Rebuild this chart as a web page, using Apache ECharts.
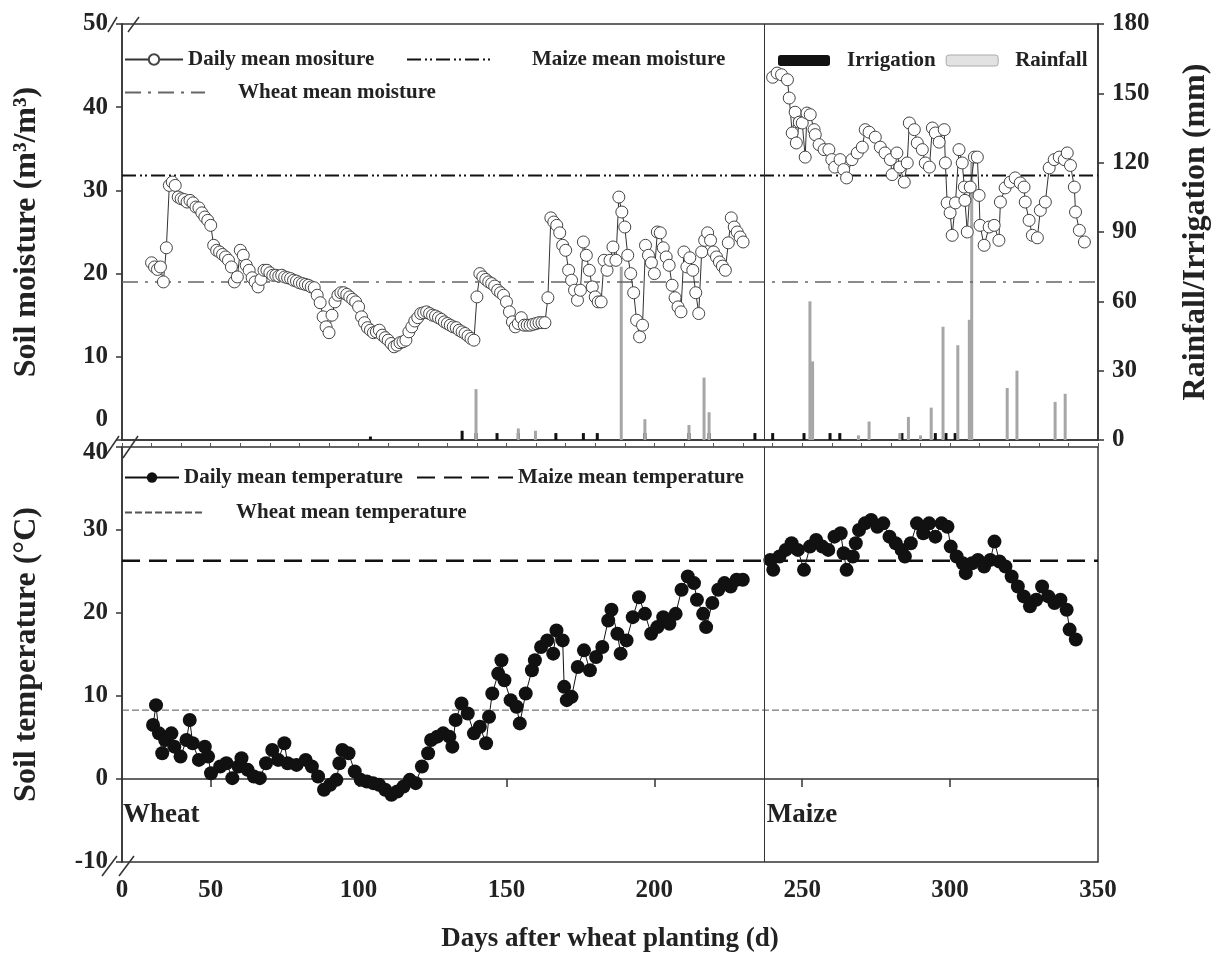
<!DOCTYPE html>
<html>
<head>
<meta charset="utf-8">
<script src="https://cdn.jsdelivr.net/npm/echarts@6.0.0/dist/echarts.min.js"></script>
<style>
  html, body { margin: 0; padding: 0; background: #fff; }
  #chart { width: 1225px; height: 960px; }
</style>
</head>
<body>
<div id="chart"></div>
<script>
// ---- data ----
const wheatMoistStart = 30
const wheatMoisture = [
  21.3, 20.8, 20.5, 20.8, 19.0, 23.1, 30.6, 31.0, 30.6, 29.2,
  29.0, 28.9, 28.6, 28.8, 28.5, 28.0, 27.9, 27.3, 26.8, 26.4,
  25.8, 23.4, 22.8, 22.6, 22.3, 22.0, 21.6, 20.8, 19.0, 19.6,
  22.8, 22.2, 21.0, 20.4, 19.5, 19.0, 18.4, 19.3, 20.4, 20.4,
  20.1, 19.8, 19.8, 19.7, 19.8, 19.6, 19.5, 19.4, 19.2, 19.1,
  18.9, 18.8, 18.7, 18.6, 18.4, 18.3, 17.4, 16.5, 14.8, 13.6,
  12.9, 15.0, 16.6, 17.4, 17.7, 17.7, 17.5, 17.2, 16.9, 16.6,
  16.0, 14.8, 14.1, 13.5, 13.2, 12.9, 13.0, 13.2, 12.6, 12.3,
  12.0, 11.6, 11.2, 11.4, 11.7, 11.8, 12.0, 13.0, 13.6, 14.3,
  14.7, 15.2, 15.3, 15.4, 15.2, 15.0, 14.9, 14.7, 14.5, 14.2,
  14.0, 13.8, 13.6, 13.5, 13.2, 13.0, 12.8, 12.5, 12.2, 12.0,
  17.2, 20.0, 19.6, 19.3, 19.0, 18.8, 18.5, 18.0, 17.7, 17.4,
  16.6, 15.4, 14.2, 13.6, 14.0, 14.7, 13.8, 13.8, 13.8, 13.9,
  14.0, 14.1, 14.1, 14.1, 17.1, 26.7, 26.2, 25.8, 24.9, 23.4,
  22.8, 20.4, 19.2, 18.0, 16.8, 18.0, 23.8, 22.2, 20.4, 18.4,
  17.2, 16.6, 16.6, 21.6, 20.4, 21.6, 23.2, 21.6, 29.2, 27.4,
  25.6, 22.2, 20.0, 17.7, 14.4, 12.4, 13.8, 23.4, 22.2, 21.3,
  20.0, 25.0, 24.9, 23.1, 22.0, 21.0, 18.6, 17.1, 16.0, 15.4,
  22.6, 20.8, 21.9, 20.4, 17.7, 15.2, 22.6, 24.0, 24.9, 24.0,
  22.6, 22.0, 21.4, 20.9, 20.4, 23.7, 26.7, 25.6, 25.0, 24.4,
  23.8
]

const maizeMoisture = [
  [240, 43.6], [241.5, 44.1], [243, 43.9], [245, 43.3], [245.6, 41.1], [246.6, 36.9],
  [247.6, 39.4], [248, 35.7], [249, 38.2], [250, 38.1], [251, 34.0], [251.6, 39.3],
  [252.7, 39.1], [254, 37.3], [254.4, 36.7], [255.7, 35.5], [257.4, 34.9], [259, 34.9],
  [260, 33.7], [261, 32.8], [262.8, 33.7], [264, 32.5], [265, 31.5], [266.8, 33.7],
  [268.6, 34.5], [270.3, 35.2], [271.3, 37.3], [272.6, 37.0], [274.7, 36.4], [276.4, 35.2],
  [278, 34.5], [279.8, 33.7], [280.4, 31.9], [282, 34.5], [283, 32.8], [284.5, 31.0],
  [285.5, 33.3], [286.2, 38.1], [287.9, 37.3], [288.9, 35.7], [290.6, 34.9], [291.6, 33.3],
  [293, 32.8], [294, 37.5], [295, 36.9], [296.3, 35.8], [298, 37.3], [298.4, 33.3],
  [299, 28.5], [300, 27.3], [300.7, 24.6], [301.8, 28.5], [303, 34.9], [304.1, 33.3],
  [304.8, 30.4], [305, 28.8], [305.8, 25.0], [306.8, 30.4], [308.2, 34.0], [309.2, 34.0],
  [309.8, 29.4], [310.1, 25.8], [311.5, 23.4], [313.2, 25.6], [314.9, 25.8], [316.5, 24.0],
  [317, 28.6], [318.6, 30.3], [320.3, 31.0], [322, 31.5], [323.7, 30.9], [325, 30.4],
  [325.4, 28.6], [326.7, 26.4], [327.8, 24.6], [329.5, 24.3], [330.5, 27.6], [332.2, 28.6],
  [333.5, 32.7], [335.2, 33.7], [336.9, 34.0], [338.6, 33.7], [339.6, 34.5], [340.7, 33.0],
  [342, 30.4], [342.4, 27.4], [343.7, 25.2], [345.4, 23.8]
]

const wheatTemp = [
  [30.5, 6.5], [31.5, 8.9], [32.5, 5.5], [33.6, 3.1], [34.6, 4.7], [36.7, 5.5], [37.7, 3.9],
  [39.8, 2.7], [41.8, 4.7], [42.9, 7.1], [43.9, 4.3], [46, 2.3], [48, 3.9], [49.1, 2.7],
  [50.1, 0.7], [53.2, 1.5], [55.3, 1.9], [57.3, 0.1], [59.4, 1.5], [60.4, 2.5], [62.5, 1.1],
  [64.6, 0.3], [66.6, 0.1], [68.7, 1.9], [70.8, 3.5], [72.8, 2.3], [74.9, 4.3], [76, 1.9],
  [79, 1.7], [82.1, 2.3], [84.2, 1.5], [86.3, 0.3], [88.3, -1.3], [90.4, -0.7], [92.5, -0.1],
  [93.5, 1.9], [94.5, 3.5], [96.6, 3.1], [98.7, 0.9], [100.7, -0.1], [102.8, -0.3], [104.9, -0.5],
  [106.9, -0.7], [109, -1.3], [111.1, -1.9], [113.1, -1.5], [115.2, -0.9], [117.3, -0.1],
  [119.3, -0.5], [121.4, 1.5], [123.5, 3.1], [124.5, 4.7], [126.6, 5.1], [128.6, 5.5],
  [130.7, 5.1], [131.7, 3.9], [132.8, 7.1], [134.8, 9.1], [136.9, 7.9], [139, 5.5], [141, 6.3],
  [143.1, 4.3], [144.1, 7.5], [145.2, 10.3], [147.2, 12.7], [148.3, 14.3], [149.3, 11.9],
  [151.4, 9.5], [153.4, 8.7], [154.5, 6.7], [156.5, 10.3], [158.6, 13.1], [159.6, 14.3],
  [161.7, 15.9], [163.8, 16.7], [165.8, 15.1], [166.9, 17.9], [169, 16.7], [169.5, 11.1],
  [170.4, 9.5], [172, 9.9], [174.1, 13.5], [176.2, 15.5], [178.2, 13.1], [180.3, 14.7],
  [182.4, 15.9], [184.4, 19.1], [185.5, 20.4], [187.5, 17.5], [188.6, 15.1], [190.6, 16.7],
  [192.7, 19.5], [194.8, 21.9], [196.8, 19.9], [198.9, 17.5], [201, 18.3], [203, 19.5],
  [205.1, 18.7], [207.2, 19.9], [209.2, 22.8], [211.3, 24.4], [213.4, 23.6], [214.4, 21.6],
  [216.5, 19.9], [217.5, 18.3], [219.6, 21.2], [221.6, 22.8], [223.7, 23.6], [225.8, 23.2],
  [227.8, 24.0], [229.9, 24.0]
]

const maizeTemp = [
  [239.2, 26.4], [240.2, 25.2], [242.3, 26.8], [244.4, 27.6], [246.4, 28.4], [248.5, 27.6],
  [250.6, 25.2], [252.6, 28.0], [254.7, 28.8], [256.8, 28.0], [258.8, 27.6], [260.9, 29.2],
  [263, 29.6], [264, 27.2], [265, 25.2], [267.1, 26.8], [268.1, 28.4], [269.2, 30.0],
  [271.2, 30.8], [273.3, 31.2], [275.4, 30.4], [277.4, 30.8], [279.5, 29.2], [281.6, 28.4],
  [283.6, 27.6], [284.7, 26.8], [286.7, 28.4], [288.8, 30.8], [290.9, 29.6], [292.9, 30.8],
  [295, 29.2], [297.1, 30.8], [299.1, 30.4], [300.2, 28.0], [302.2, 26.8], [304.3, 26.0],
  [305.3, 24.8], [307.4, 26.0], [309.4, 26.4], [311.5, 25.6], [313.6, 26.4], [315, 28.6],
  [316.7, 26.2], [318.7, 25.6], [320.8, 24.4], [322.9, 23.2], [324.9, 22.0], [327, 20.8],
  [329.1, 21.6], [331.1, 23.2], [333.2, 22.0], [335.3, 21.2], [337.3, 21.6], [339.4, 20.4],
  [340.4, 18.0], [342.5, 16.8]
]

const irrigationDays = [104, 135, 139.7, 146.8, 154, 166.7, 176, 180.7, 196.8, 211.7, 218.5,
  234, 240, 250.6, 259.4, 262.7, 283.7, 295, 298.6, 301.7]
const irrigationMm = [1.5, 4, 3, 3, 3, 3, 3, 3, 3, 3, 3, 3, 3, 3, 3, 3, 3, 3, 3, 3]

const rainDays = [139.7, 154, 159.8, 188.8, 196.8, 211.7, 216.8, 218.5, 252.6, 253.5, 269,
  272.6, 283, 285.9, 290, 293.6, 297.6, 302.6, 306.5, 307.3, 319.3, 322.6, 335.5, 338.9]
const rainMm = [22, 5, 4, 75, 9, 6.5, 27, 12, 60, 34, 2, 8, 3, 10, 2, 14, 49, 41, 52, 120,
  22.5, 30, 16.5, 20]

const wheatMeanMoisture = 19.0
const maizeMeanMoisture = 31.8
const wheatMeanTemp = 8.3
const maizeMeanTemp = 26.3
const harvestDay = 237
const dayRange = [20, 350]
const dayTicks = [50, 100, 150, 200, 250, 300, 350]
const cropNames = ['Wheat', 'Maize']
const cropLabelDays = [20.3, 238]

// ---- styling ----
const FONT = 'Liberation Serif'
const axisText = { fontFamily: FONT, fontWeight: 'bold', fontSize: 25, color: '#222' }
const titleText = { fontFamily: FONT, fontWeight: 'bold', fontSize: 32, color: '#222' }
const legText = { fontFamily: FONT, fontWeight: 'bold', fontSize: 21, color: '#222' }
const axisLine = { show: true, lineStyle: { color: '#333', width: 1.5 } }
const lineOnly = { opacity: 0 }

const wheatMoistData = wheatMoisture.map((v, i) => [wheatMoistStart + i, v])
const irrigationData = irrigationDays.map((d, i) => [d, irrigationMm[i]])
const rainData = rainDays.map((d, i) => [d, rainMm[i]])
const flat = (v) => [[dayRange[0], v], [dayRange[1], v]]

const separator = {
  silent: true,
  symbol: 'none',
  label: { show: false },
  lineStyle: { color: '#333', type: 'solid', width: 1 },
  data: [{ xAxis: harvestDay }]
}

const chart = echarts.init(document.getElementById('chart'))

const option = {
  animation: false,
  backgroundColor: '#fff',
  grid: [
    { left: 122, right: 127, top: 24, height: 416, show: true, borderColor: '#333', borderWidth: 1.5 },
    { left: 122, right: 127, top: 447, height: 415, show: true, borderColor: '#333', borderWidth: 1.5 }
  ],
  xAxis: [
    {
      gridIndex: 0, type: 'value', min: dayRange[0], max: dayRange[1],
      axisLine: axisLine, axisTick: { show: false }, axisLabel: { show: false }, splitLine: { show: false }
    },
    {
      gridIndex: 1, type: 'value', min: dayRange[0], max: dayRange[1], interval: 10,
      axisLine: axisLine,
      axisTick: { show: true, customValues: dayTicks, length: 8, lineStyle: { color: '#333', width: 1.5 } },
      axisLabel: {
        ...axisText, margin: 16,
        formatter: (v) => v === dayRange[0] ? '0' : (v % 50 === 0 ? String(v) : '')
      },
      splitLine: { show: false },
      name: 'Days after wheat planting (d)', nameLocation: 'middle', nameGap: 64,
      nameTextStyle: { ...axisText, fontSize: 27 }
    },
    {
      gridIndex: 1, type: 'value', min: dayRange[0], max: dayRange[1], interval: 10,
      axisLine: { show: false },
      axisTick: { show: true, length: 4, lineStyle: { color: '#555', width: 1 } },
      axisLabel: { show: false }, splitLine: { show: false }
    }
  ],
  yAxis: [
    {
      gridIndex: 0, type: 'value', min: 0, max: 50, interval: 10, position: 'left',
      axisLine: axisLine,
      axisTick: { show: true, length: 6, lineStyle: { color: '#333', width: 1.5 } },
      axisLabel: {
        ...axisText, margin: 14,
        formatter: (v) => v === 0 ? '{lo|0}' : String(v),
        rich: { lo: { ...axisText, padding: [0, 0, 40, 0] } }
      },
      splitLine: { show: false },
      name: 'Soil moisture (m³/m³)', nameLocation: 'middle', nameRotate: 90, nameGap: 79,
      nameTextStyle: titleText
    },
    {
      gridIndex: 0, type: 'value', min: 0, max: 180, interval: 30, position: 'right',
      axisLine: axisLine,
      axisTick: { show: true, length: 6, lineStyle: { color: '#333', width: 1.5 } },
      axisLabel: { ...axisText, margin: 14 },
      splitLine: { show: false },
      name: 'Rainfall/Irrigation (mm)', nameLocation: 'middle', nameRotate: 90, nameGap: 82,
      nameTextStyle: titleText
    },
    {
      gridIndex: 1, type: 'value', min: -10, max: 40, interval: 10, position: 'left',
      axisLine: axisLine,
      axisTick: { show: true, length: 6, lineStyle: { color: '#333', width: 1.5 } },
      axisLabel: {
        ...axisText, margin: 14,
        formatter: (v) => v === 40 ? '{hi|40}' : String(v),
        rich: { hi: { ...axisText, padding: [12, 0, 0, 0] } }
      },
      splitLine: { show: false },
      name: 'Soil temperature (°C)', nameLocation: 'middle', nameRotate: 90, nameGap: 79,
      nameTextStyle: titleText
    }
  ],
  legend: [
    { data: ['Daily mean mositure'], left: 124, top: 49, padding: 0, itemWidth: 58, itemHeight: 13, textStyle: legText },
    { data: [{ name: 'Maize mean moisture', itemStyle: lineOnly }], left: 406, top: 49, padding: 0,
      itemWidth: 86, itemHeight: 13, textStyle: { ...legText, padding: [0, 0, 0, 34] } },
    { data: [{ name: 'Wheat mean moisture', itemStyle: lineOnly }], left: 124, top: 82, padding: 0,
      itemWidth: 80, itemHeight: 13, textStyle: { ...legText, padding: [0, 0, 0, 28] } },
    { data: [
        { name: 'Irrigation', itemStyle: { color: '#111' } },
        { name: 'Rainfall', itemStyle: { color: '#e2e2e2', borderColor: '#aaa', borderWidth: 1 } }
      ],
      left: 778, top: 50, padding: 0, itemWidth: 52, itemHeight: 11, itemGap: 10,
      textStyle: { ...legText, padding: [0, 0, 0, 12] } },
    { data: ['Daily mean temperature'], left: 124, top: 467, padding: 0, itemWidth: 54, itemHeight: 13, textStyle: legText },
    { data: [{ name: 'Maize mean temperature', itemStyle: lineOnly }], left: 416, top: 467, padding: 0,
      itemWidth: 96, itemHeight: 13, textStyle: legText },
    { data: [{ name: 'Wheat mean temperature', itemStyle: lineOnly }], left: 124, top: 502, padding: 0,
      itemWidth: 78, itemHeight: 13, textStyle: { ...legText, padding: [0, 0, 0, 28] } }
  ],
  graphic: [
    { type: 'line', shape: { x1: 108, y1: 32, x2: 117, y2: 17 }, style: { stroke: '#333', lineWidth: 1.5 } },
    { type: 'line', shape: { x1: 128, y1: 32, x2: 139, y2: 17 }, style: { stroke: '#333', lineWidth: 1.5 } },
    { type: 'line', shape: { x1: 104, y1: 458, x2: 119, y2: 436 }, style: { stroke: '#333', lineWidth: 1.5 } },
    { type: 'line', shape: { x1: 123, y1: 458, x2: 138, y2: 436 }, style: { stroke: '#333', lineWidth: 1.5 } },
    { type: 'line', shape: { x1: 102, y1: 876, x2: 117, y2: 856 }, style: { stroke: '#333', lineWidth: 1.5 } },
    { type: 'line', shape: { x1: 119, y1: 876, x2: 134, y2: 856 }, style: { stroke: '#333', lineWidth: 1.5 } }
  ],
  series: [
    {
      name: 'Irrigation', type: 'bar', xAxisIndex: 0, yAxisIndex: 1,
      data: irrigationData, barWidth: 3, barGap: '-100%',
      itemStyle: { color: '#111' }, z: 1
    },
    {
      name: 'Rainfall', type: 'bar', xAxisIndex: 0, yAxisIndex: 1,
      data: rainData, barWidth: 3, barGap: '-100%',
      itemStyle: { color: '#a6a6a6' }, z: 1
    },
    {
      name: 'Wheat mean moisture', type: 'line', xAxisIndex: 0, yAxisIndex: 0,
      data: flat(wheatMeanMoisture), symbol: 'none', itemStyle: { color: '#666' },
      lineStyle: { color: '#666', width: 1.5, type: [16, 7, 3, 7] }, z: 2
    },
    {
      name: 'Maize mean moisture', type: 'line', xAxisIndex: 0, yAxisIndex: 0,
      data: flat(maizeMeanMoisture), symbol: 'none', itemStyle: { color: '#111' },
      lineStyle: { color: '#111', width: 2, type: [14, 4, 2, 3, 2, 4] }, z: 2
    },
    {
      name: 'Daily mean mositure', type: 'line', xAxisIndex: 0, yAxisIndex: 0,
      data: wheatMoistData, symbol: 'circle', symbolSize: 12,
      itemStyle: { color: '#fff', borderColor: '#444', borderWidth: 1 },
      lineStyle: { color: '#333', width: 1 }, z: 4,
      markLine: separator
    },
    {
      name: 'Daily mean mositure', type: 'line', xAxisIndex: 0, yAxisIndex: 0,
      data: maizeMoisture, symbol: 'circle', symbolSize: 12,
      itemStyle: { color: '#fff', borderColor: '#444', borderWidth: 1 },
      lineStyle: { color: '#333', width: 1 }, z: 4
    },
    {
      name: 'Wheat mean temperature', type: 'line', xAxisIndex: 1, yAxisIndex: 2,
      data: flat(wheatMeanTemp), symbol: 'none', itemStyle: { color: '#555' },
      lineStyle: { color: '#555', width: 1, type: [7, 3] }, z: 2
    },
    {
      name: 'Maize mean temperature', type: 'line', xAxisIndex: 1, yAxisIndex: 2,
      data: flat(maizeMeanTemp), symbol: 'none', itemStyle: { color: '#111' },
      lineStyle: { color: '#111', width: 2.5, type: [18, 9] }, z: 2
    },
    {
      name: 'Daily mean temperature', type: 'line', xAxisIndex: 1, yAxisIndex: 2,
      data: wheatTemp, symbol: 'circle', symbolSize: 14,
      itemStyle: { color: '#111' }, lineStyle: { color: '#111', width: 1 }, z: 4,
      markLine: separator,
      markPoint: {
        symbol: 'circle', symbolSize: 0,
        label: {
          show: true, position: 'right', distance: 0, formatter: '{b}',
          fontFamily: FONT, fontWeight: 'bold', fontSize: 27, color: '#222'
        },
        data: cropNames.map((n, i) => ({ name: n, coord: [cropLabelDays[i], -4.4] }))
      }
    },
    {
      name: 'Daily mean temperature', type: 'line', xAxisIndex: 1, yAxisIndex: 2,
      data: maizeTemp, symbol: 'circle', symbolSize: 14,
      itemStyle: { color: '#111' }, lineStyle: { color: '#111', width: 1 }, z: 4
    }
  ]
}

chart.setOption(option)
window.addEventListener('resize', () => chart.resize())
</script>
</body>
</html>
